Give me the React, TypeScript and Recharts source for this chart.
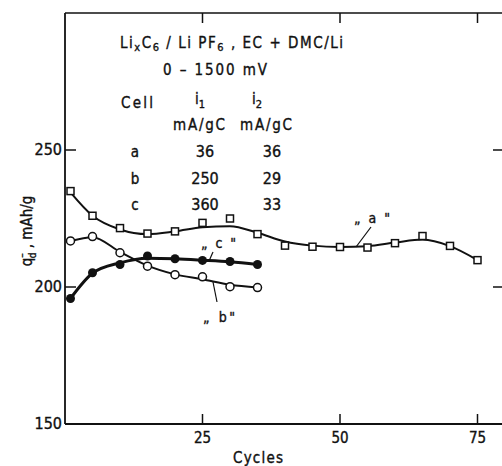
import { ComposedChart, Line, Scatter, XAxis, YAxis } from 'recharts'

// Cycle numbers at which the markers were read, and the capacities (mAh/g).
const cyclesA = [1, 5, 10, 15, 20, 25, 30, 35, 40, 45, 50, 55, 60, 65, 70, 75]
const capA = [235, 226, 221.5, 219.5, 220.3, 223.4, 225, 219.3, 215.1, 214.7, 214.6, 214.4, 216, 218.6, 215, 209.8]
const cyclesBC = [1, 5, 10, 15, 20, 25, 30, 35]
const capB = [216.8, 218.4, 212.5, 207.6, 204.5, 203.7, 200.1, 199.8]
const capC = [195.8, 205.2, 208.2, 211.3, 210.3, 209.7, 209.3, 208.2]

// Hand-drawn smooth curves at the same cycles.
const fitA = [234.5, 226, 221, 219.3, 220.3, 221.8, 222.2, 219.8, 216.6, 215.1, 214.6, 214.9, 216.2, 217.3, 214.9, 209.8]
const fitB = [216.8, 218.2, 212.8, 207.8, 204.6, 202.8, 200.8, 199.8]
const fitC = [195.8, 205, 208.8, 210.5, 210.3, 209.8, 209.2, 208.2]

const xTicks = [25, 50, 75]
const yTicksLeft = [150, 200, 250]
const yTicksRight = [200, 250]

const pts = (xs: number[], ys: number[]) => xs.map((x, i) => ({ x, y: ys[i] }))

const INK = '#111'
const FONT = '"DejaVu Sans Condensed", "Liberation Sans Narrow", "DejaVu Sans", sans-serif'
// slight outline to get the heavy look of the printed lettering
const heavy = { stroke: INK, strokeWidth: 0.35 }

const BottomTick = ({ x, y, payload }: any) => (
  <g>
    <line x1={x} x2={x} y1={y} y2={y - 10} stroke={INK} strokeWidth={1.5} />
    <text x={x} y={y + 19} textAnchor="middle" fontSize={15} fill={INK} fontFamily={FONT} {...heavy}>
      {payload.value}
    </text>
  </g>
)

const TopTick = ({ x, y }: any) => <line x1={x} x2={x} y1={y} y2={y + 10} stroke={INK} strokeWidth={1.5} />

const LeftTick = ({ x, y, payload }: any) => (
  <g>
    {payload.value > 150 && <line x1={x} x2={x + 11} y1={y} y2={y} stroke={INK} strokeWidth={1.5} />}
    <text x={x - 3} y={y + 5} textAnchor="end" fontSize={16} fill={INK} fontFamily={FONT} {...heavy}>
      {payload.value}
    </text>
  </g>
)

const RightTick = ({ x, y }: any) => <line x1={x} x2={x - 12} y1={y} y2={y} stroke={INK} strokeWidth={1.5} />

const Square = ({ cx, cy }: any) => (
  <rect x={cx - 3.5} y={cy - 3.5} width={7} height={7} fill="#fff" stroke={INK} strokeWidth={1.5} />
)
const OpenDot = ({ cx, cy }: any) => <circle cx={cx} cy={cy} r={4} fill="#fff" stroke={INK} strokeWidth={1.5} />
const FullDot = ({ cx, cy }: any) => <circle cx={cx} cy={cy} r={4.5} fill={INK} />
const Nothing = () => <g />

export default function App() {
  return (
    <div style={{ position: 'absolute', left: 0, top: 0, width: 502, height: 466, background: '#fff' }}>
      <ComposedChart width={502} height={466} margin={{ top: 12, right: -4, bottom: 0, left: 4 }}>
        <XAxis
          xAxisId={0}
          dataKey="x"
          type="number"
          domain={[0, 80]}
          ticks={xTicks}
          height={42}
          tickSize={0}
          tickMargin={0}
          tickLine={false}
          axisLine={{ stroke: INK, strokeWidth: 1.8 }}
          tick={<BottomTick />}
          allowDataOverflow
        />
        <XAxis
          xAxisId="top"
          orientation="top"
          dataKey="x"
          type="number"
          domain={[0, 80]}
          ticks={xTicks}
          height={1}
          tickSize={0}
          tickMargin={0}
          tickLine={false}
          axisLine={{ stroke: INK, strokeWidth: 1.5 }}
          tick={<TopTick />}
          allowDataOverflow
        />
        <YAxis
          yAxisId={0}
          dataKey="y"
          type="number"
          domain={[150, 300]}
          ticks={yTicksLeft}
          width={61}
          tickSize={0}
          tickMargin={0}
          tickLine={false}
          axisLine={{ stroke: INK, strokeWidth: 1.8 }}
          tick={<LeftTick />}
          allowDataOverflow
        />
        <YAxis
          yAxisId="right"
          orientation="right"
          dataKey="y"
          type="number"
          domain={[150, 300]}
          ticks={yTicksRight}
          width={1}
          tickSize={0}
          tickMargin={0}
          tickLine={false}
          axisLine={false}
          tick={<RightTick />}
          allowDataOverflow
        />
        {/* invisible series so the top and right frame axes are bound */}
        <Scatter xAxisId="top" yAxisId="right" data={pts(cyclesA, capA)} dataKey="y" shape={<Nothing />} isAnimationActive={false} />
        <Line data={pts(cyclesA, fitA)} dataKey="y" type="monotone" stroke={INK} strokeWidth={2} dot={false} isAnimationActive={false} />
        <Line data={pts(cyclesBC, fitB)} dataKey="y" type="monotone" stroke={INK} strokeWidth={2} dot={false} isAnimationActive={false} />
        <Line data={pts(cyclesBC, fitC)} dataKey="y" type="monotone" stroke={INK} strokeWidth={3} dot={false} isAnimationActive={false} />
        <Scatter data={pts(cyclesA, capA)} dataKey="y" shape={<Square />} isAnimationActive={false} />
        <Scatter data={pts(cyclesBC, capB)} dataKey="y" shape={<OpenDot />} isAnimationActive={false} />
        <Scatter data={pts(cyclesBC, capC)} dataKey="y" shape={<FullDot />} isAnimationActive={false} />
      </ComposedChart>

      <svg
        width={502}
        height={466}
        style={{ position: 'absolute', left: 0, top: 0, pointerEvents: 'none' }}
        fontFamily={FONT}
        fill={INK}
        {...heavy}
      >
        <text x={120} y={48} fontSize={15} textLength={223} lengthAdjust="spacing">
          Li<tspan fontSize={11} dy={3}>x</tspan>
          <tspan dy={-3}>C</tspan>
          <tspan fontSize={11} dy={3}>6</tspan>
          <tspan dy={-3}> / Li PF</tspan>
          <tspan fontSize={11} dy={3}>6</tspan>
          <tspan dy={-3}> , EC + DMC/Li</tspan>
        </text>
        <text x={163} y={75} fontSize={15} textLength={104} lengthAdjust="spacing">0 – 1500 mV</text>

        <text x={121} y={108} fontSize={15} textLength={32} lengthAdjust="spacing">Cell</text>
        <text x={195} y={104} fontSize={15}>
          i<tspan fontSize={11} dy={4}>1</tspan>
        </text>
        <text x={252} y={104} fontSize={15}>
          i<tspan fontSize={11} dy={4}>2</tspan>
        </text>
        <text x={173} y={130} fontSize={15} textLength={52} lengthAdjust="spacing">mA/gC</text>
        <text x={240} y={130} fontSize={15} textLength={52} lengthAdjust="spacing">mA/gC</text>

        <text x={135} y={157} fontSize={15} textAnchor="middle">a</text>
        <text x={205} y={157} fontSize={16} textAnchor="middle">36</text>
        <text x={272} y={157} fontSize={16} textAnchor="middle">36</text>
        <text x={135} y={184} fontSize={15} textAnchor="middle">b</text>
        <text x={205} y={184} fontSize={16} textAnchor="middle">250</text>
        <text x={272} y={184} fontSize={16} textAnchor="middle">29</text>
        <text x={135} y={210} fontSize={15} textAnchor="middle">c</text>
        <text x={205} y={210} fontSize={16} textAnchor="middle">360</text>
        <text x={272} y={210} fontSize={16} textAnchor="middle">33</text>

        <text x={354} y={223} fontSize={14} textLength={36} lengthAdjust="spacing">„ a "</text>
        <line x1={371} y1={227} x2={356} y2={247} stroke={INK} strokeWidth={1.2} />
        <text x={201} y={248} fontSize={14} textLength={35} lengthAdjust="spacing">„ c "</text>
        <line x1={213} y1={252} x2={209} y2={261} stroke={INK} strokeWidth={1.2} />
        <text x={203} y={322} fontSize={14} textLength={32} lengthAdjust="spacing">„ b"</text>
        <line x1={213} y1={282} x2={217} y2={302} stroke={INK} strokeWidth={1.2} />

        <text x={258} y={463} fontSize={15} textAnchor="middle" textLength={50} lengthAdjust="spacing">Cycles</text>
        <text transform="translate(32 231) rotate(-90)" fontSize={15} textAnchor="middle">
          q<tspan fontSize={10} dy={-7}>–</tspan>
          <tspan fontSize={10} dx={-5} dy={11}>d</tspan>
          <tspan dy={-4}> , mAh/g</tspan>
        </text>
      </svg>
    </div>
  )
}
